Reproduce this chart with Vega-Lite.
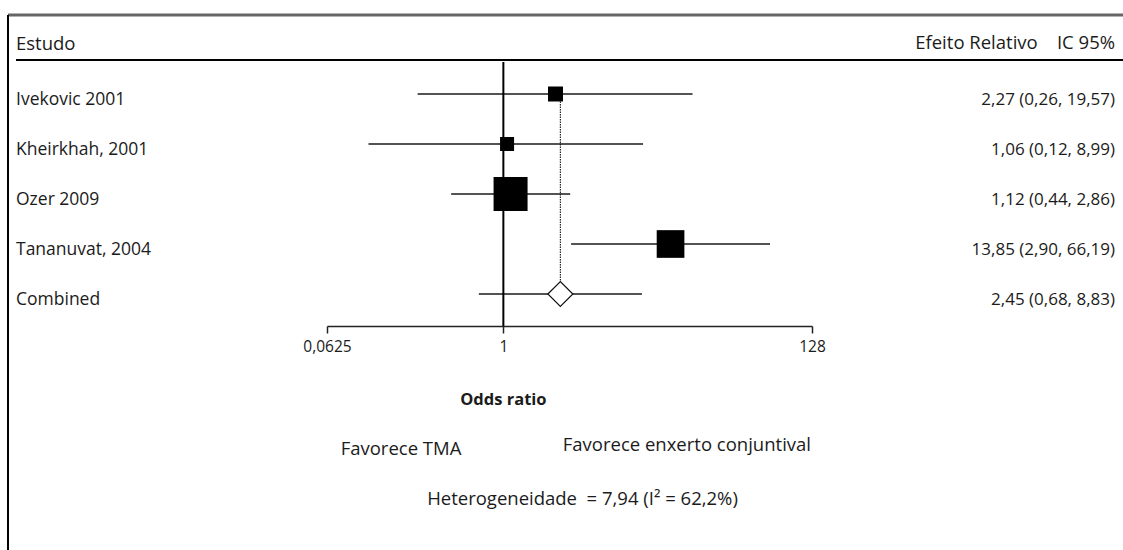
{
  "$schema": "https://vega.github.io/schema/vega-lite/v6.json",
  "width": 1115,
  "height": 535,
  "autosize": {"type": "none"},
  "padding": {"left": 8, "top": 15, "right": 0, "bottom": 0},
  "background": "white",
  "config": {
    "view": {"stroke": null},
    "text": {"font": "Open Sans", "fontSize": 17, "color": "#1b1b1b"}
  },
  "datasets": {
    "studies": [
      {"study": "Ivekovic 2001", "row": 1, "or": 2.27, "lo": 0.26, "hi": 19.57, "weight": 9.6, "label": "2,27 (0,26, 19,57)", "kind": "study"},
      {"study": "Kheirkhah, 2001", "row": 2, "or": 1.06, "lo": 0.12, "hi": 8.99, "weight": 8.4, "label": "1,06 (0,12, 8,99)", "kind": "study"},
      {"study": "Ozer 2009", "row": 3, "or": 1.12, "lo": 0.44, "hi": 2.86, "weight": 49.3, "label": "1,12 (0,44, 2,86)", "kind": "study"},
      {"study": "Tananuvat, 2004", "row": 4, "or": 13.85, "lo": 2.90, "hi": 66.19, "weight": 32.7, "label": "13,85 (2,90, 66,19)", "kind": "study"},
      {"study": "Combined", "row": 5, "or": 2.45, "lo": 0.68, "hi": 8.83, "weight": null, "label": "2,45 (0,68, 8,83)", "kind": "combined"}
    ],
    "notes": [
      {"text": "Odds ratio", "x": 1, "row": 7, "bold": true},
      {"text": "Favorece TMA", "x": 0.2, "row": 8, "bold": false},
      {"text": "Favorece enxerto conjuntival", "x": 17.9, "row": 7.92, "bold": false},
      {"text": "Heterogeneidade\u00a0 = 7,94 (I² = 62,2%)", "x": 3.47, "row": 9, "bold": false}
    ],
    "headers": [
      {"text": "Estudo", "col": "study"},
      {"text": "Efeito Relativo\u00a0\u00a0\u00a0\u00a0IC 95%", "col": "effect"}
    ]
  },
  "resolve": {"scale": {"x": "independent"}},
  "layer": [
    {
      "layer": [
        {
          "data": {"name": "studies"},
          "mark": {"type": "rule", "strokeWidth": 1.5, "color": "#1a1a1a"},
          "encoding": {
            "x": {
              "field": "lo", "type": "quantitative",
              "scale": {"type": "log", "base": 2, "domain": [0.0625, 128], "range": [319, 804], "nice": false},
              "axis": {
                "values": [0.0625, 1, 128],
                "labelExpr": "replace(toString(datum.value), '.', ',')",
                "title": null, "offset": -224, "grid": false,
                "domainColor": "#222", "domainWidth": 1.5,
                "tickColor": "#222", "tickWidth": 1.5, "tickSize": 7,
                "labelFont": "Open Sans", "labelFontSize": 15.5, "labelColor": "#1b1b1b",
                "labelPadding": 6, "labelFlush": false, "labelOverlap": false
              }
            },
            "x2": {"field": "hi"},
            "y": {
              "field": "row", "type": "quantitative",
              "scale": {"domain": [-0.58, 10.12], "reverse": true, "zero": false, "nice": false},
              "axis": null
            }
          }
        },
        {
          "data": {"values": [{}]},
          "mark": {"type": "rule", "strokeWidth": 2, "color": "#000"},
          "encoding": {
            "x": {"datum": 1, "type": "quantitative"},
            "y": {"datum": 0.36, "type": "quantitative", "axis": null},
            "y2": {"datum": 5.64}
          }
        },
        {
          "data": {"name": "studies"},
          "transform": [{"filter": "datum.kind === 'combined'"}],
          "mark": {"type": "rule", "strokeWidth": 1.1, "color": "#111", "strokeDash": [1.5, 1]},
          "encoding": {
            "x": {"field": "or", "type": "quantitative"},
            "y": {"datum": 1, "type": "quantitative", "axis": null},
            "y2": {"datum": 4.74}
          }
        },
        {
          "data": {"name": "studies"},
          "transform": [{"filter": "datum.kind === 'study'"}],
          "mark": {"type": "point", "shape": "square", "filled": true, "color": "#000", "opacity": 1},
          "encoding": {
            "x": {"field": "or", "type": "quantitative"},
            "y": {"field": "row", "type": "quantitative", "axis": null},
            "size": {"field": "weight", "type": "quantitative", "scale": {"type": "linear", "domain": [0, 100], "range": [0, 2344], "zero": true}, "legend": null}
          }
        },
        {
          "data": {"name": "studies"},
          "transform": [{"filter": "datum.kind === 'combined'"}],
          "mark": {"type": "point", "shape": "diamond", "filled": true, "fill": "#fff", "stroke": "#111", "strokeWidth": 1.2, "size": 625, "opacity": 1},
          "encoding": {
            "x": {"field": "or", "type": "quantitative"},
            "y": {"field": "row", "type": "quantitative", "axis": null}
          }
        },
        {
          "data": {"name": "notes"},
          "transform": [{"filter": "!datum.bold"}],
          "mark": {"type": "text", "align": "center", "baseline": "alphabetic", "dy": 11, "fontSize": 18.5},
          "encoding": {
            "x": {"field": "x", "type": "quantitative"},
            "y": {"field": "row", "type": "quantitative", "axis": null},
            "text": {"field": "text"}
          }
        },
        {
          "data": {"name": "notes"},
          "transform": [{"filter": "datum.bold"}],
          "mark": {"type": "text", "align": "center", "baseline": "alphabetic", "dy": 11, "fontWeight": "bold", "fontSize": 16.5},
          "encoding": {
            "x": {"field": "x", "type": "quantitative"},
            "y": {"field": "row", "type": "quantitative", "axis": null},
            "text": {"field": "text"}
          }
        }
      ]
    },
    {
      "layer": [
        {
          "data": {"name": "studies"},
          "mark": {"type": "text", "align": "left", "baseline": "alphabetic", "dy": 11, "fontSize": 17.5},
          "encoding": {
            "x": {"datum": "study", "type": "nominal", "scale": {"type": "point", "domain": ["study", "effect"], "range": [8, 1107], "padding": 0}, "axis": null},
            "y": {"field": "row", "type": "quantitative", "axis": null},
            "text": {"field": "study"}
          }
        },
        {
          "data": {"name": "studies"},
          "mark": {"type": "text", "align": "right", "baseline": "alphabetic", "dy": 11, "fontSize": 17},
          "encoding": {
            "x": {"datum": "effect", "type": "nominal", "axis": null},
            "y": {"field": "row", "type": "quantitative", "axis": null},
            "text": {"field": "label"}
          }
        },
        {
          "data": {"name": "headers"},
          "transform": [{"filter": "datum.col === 'study'"}],
          "mark": {"type": "text", "align": "left", "baseline": "alphabetic", "dy": 6, "fontSize": 18.5},
          "encoding": {
            "x": {"field": "col", "type": "nominal", "axis": null},
            "y": {"datum": 0, "type": "quantitative", "axis": null},
            "text": {"field": "text"}
          }
        },
        {
          "data": {"name": "headers"},
          "transform": [{"filter": "datum.col === 'effect'"}],
          "mark": {"type": "text", "align": "right", "baseline": "alphabetic", "dy": 5, "fontSize": 18.5},
          "encoding": {
            "x": {"field": "col", "type": "nominal", "axis": null},
            "y": {"datum": 0, "type": "quantitative", "axis": null},
            "text": {"field": "text"}
          }
        },
        {
          "data": {"values": [{}]},
          "mark": {"type": "rule", "strokeWidth": 2, "color": "#000"},
          "encoding": {
            "x": {"datum": "study", "type": "nominal", "axis": null},
            "x2": {"value": "width"},
            "y": {"datum": 0.32, "type": "quantitative", "axis": null}
          }
        },
        {
          "data": {"values": [{}]},
          "mark": {"type": "rule", "strokeWidth": 3, "color": "#666"},
          "encoding": {
            "x": {"value": 0},
            "x2": {"value": "width"},
            "y": {"value": 0}
          }
        },
        {
          "data": {"values": [{}]},
          "mark": {"type": "rule", "strokeWidth": 2, "color": "#000"},
          "encoding": {
            "x": {"value": 0},
            "y": {"value": 0},
            "y2": {"value": "height"}
          }
        }
      ]
    }
  ]
}
